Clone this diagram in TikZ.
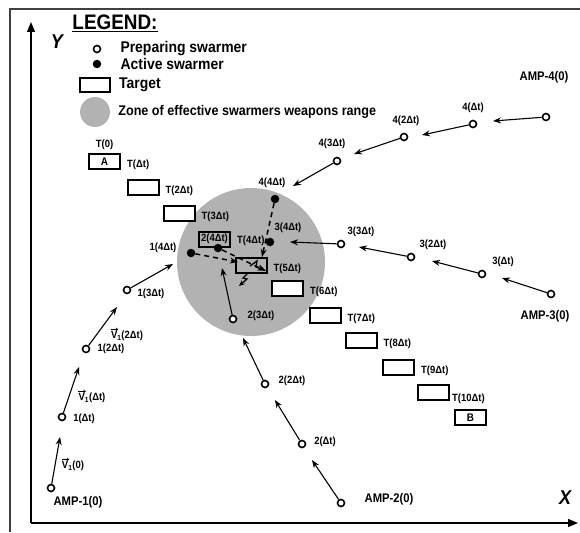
\documentclass[tikz,border=0pt]{standalone}
\usepackage{fontspec}
\setmainfont[FakeStretch=0.9]{Liberation Sans}
\usetikzlibrary{arrows.meta,positioning}
\definecolor{zonegray}{RGB}{178,178,178}

\begin{document}
\begin{tikzpicture}[x=1pt, y=-1pt,
  prep/.style={circle, draw, line width=1.6pt, fill=white, inner sep=0pt, minimum size=7pt},
  act/.style={circle, fill, inner sep=0pt, minimum size=8.5pt},
  tgt/.style={draw, rectangle, line width=2pt, fill=white, minimum width=31pt,
    minimum height=15pt, inner sep=0pt, font=\bfseries\fontsize{11}{12}\selectfont},
  lbl/.style={font=\bfseries\fontsize{10.5}{12}\selectfont, inner sep=0pt},
  amp/.style={font=\bfseries\fontsize{12.5}{14}\selectfont, inner sep=0pt},
  legtxt/.style={font=\bfseries\fontsize{15.5}{16}\selectfont, inner sep=0pt},
  move/.style={line width=1.1pt, -{Stealth[length=8pt,width=6pt]}},
  vbar/.style={line width=0.6pt, -{Straight Barb[length=2pt,width=3pt]}},
  hit/.style={line width=1.5pt, dash pattern=on 5pt off 4pt, -{Stealth[length=8pt,width=6pt]}},
  bolt/.style={line width=1.3pt, -{Stealth[length=6pt,width=5pt]}},
  axis/.style={line width=1.3pt, -{Triangle[length=10pt,width=8pt]}}
]
  \useasboundingbox (0,0) rectangle (580,532);

  % frame and axes
  \draw[line width=1.5pt, black!75] (10,532) -- (10,9) -- (580,9);
  \coordinate (o)    at (31,523);
  \coordinate (ytip) at (31,22);
  \coordinate (xtip) at (578,523);
  \draw[axis] (o) -- (ytip);
  \draw[axis] (o) -- (xtip);
  \node[font=\bfseries\itshape\fontsize{20}{20}\selectfont, inner sep=0pt] (ylab) at (57,42) {Y};
  \node[font=\bfseries\itshape\fontsize{20}{20}\selectfont, inner sep=0pt] (xlab) at (565,498) {X};

  % legend
  \node[font=\bfseries\fontsize{21}{22}\selectfont, inner sep=0pt] (leg) at (115,23) {\underline{LEGEND:}};
  \node[prep] (lprep) at (97,49) {};
  \node[legtxt, right=19pt of lprep] (lpreptxt) {Preparing swarmer};
  \node[act]  (lact)  at (97,64) {};
  \node[legtxt, right=19pt of lact] (lacttxt) {Active swarmer};
  \node[tgt, minimum width=30pt, minimum height=14pt] (ltgt) at (95,85) {};
  \node[legtxt, right=8pt of ltgt] (ltgttxt) {Target};
  \node[circle, fill=zonegray, minimum size=30pt, inner sep=0pt] (lzone) at (95,112) {};
  \node[font=\bfseries\fontsize{14}{15}\selectfont, inner sep=0pt, right=8pt of lzone] (lzonetxt)
    {Zone of effective swarmers weapons range};

  % zone of effective weapons range
  \node[circle, fill=zonegray, minimum size=148pt, inner sep=0pt] (zone) at (251,262) {};

  % target positions
  \node[tgt] (t0)  at (104.5,161.5) {A};
  \node[tgt] (t1)  at (143,187) {};
  \node[tgt] (t2)  at (179,213) {};
  \node[tgt, fill=none, font=\bfseries\fontsize{10.5}{12}\selectfont] (t3) at (214.5,239) {2(4Δt)};
  \node[tgt, fill=none] (t4) at (251,265) {};
  \node[tgt] (t5)  at (287.5,288.5) {};
  \node[tgt] (t6)  at (325,315.5) {};
  \node[tgt] (t7)  at (361,340.5) {};
  \node[tgt] (t8)  at (398.5,367) {};
  \node[tgt] (t9)  at (433.5,392) {};
  \node[tgt] (t10) at (470.5,417.5) {B};

  \node[lbl, above=3pt of t0] (lt0) {T(0)};
  \node[lbl, above right=0pt and 6pt of t0.south east] (lt1) {T(Δt)};
  \node[lbl, above right=0pt and 6pt of t1.south east] (lt2) {T(2Δt)};
  \node[lbl, above right=0pt and 6pt of t2.south east] (lt3) {T(3Δt)};
  \node[lbl, above right=2pt and 6pt of t3.south east] (lt4) {T(4Δt)};
  \node[lbl, above right=0pt and 6pt of t4.south east] (lt5) {T(5Δt)};
  \node[lbl, above right=0pt and 6pt of t5.south east] (lt6) {T(6Δt)};
  \node[lbl, above right=0pt and 6pt of t6.south east] (lt7) {T(7Δt)};
  \node[lbl, above right=0pt and 6pt of t7.south east] (lt8) {T(8Δt)};
  \node[lbl, above right=0pt and 6pt of t8.south east] (lt9) {T(9Δt)};
  \node[lbl, above right=-3pt and 2pt of t9.south east] (lt10) {T(10Δt)};

  % swarmer 1
  \node[prep] (p10) at (51,488) {};
  \node[prep] (p11) at (62,417) {};
  \node[prep] (p12) at (86,349) {};
  \node[prep] (p13) at (127,290) {};
  \node[act]  (a14) at (191,253) {};
  \coordinate (v10) at (60,437);
  \coordinate (v11) at (79,367);
  \coordinate (v12) at (117,307);
  \coordinate (v13) at (173,264);
  \draw[move] (p10) -- (v10);
  \draw[move] (p11) -- (v11);
  \draw[move] (p12) -- (v12);
  \draw[move] (p13) -- (v13);
  \node[amp] (l10) at (78,502) {AMP-1(0)};
  \node[lbl] (lv10) at (73,466) {V\textsubscript{1}(0)};
  \node[lbl] (l11) at (84,419) {1(Δt)};
  \node[lbl] (lv11) at (92,398) {V\textsubscript{1}(Δt)};
  \node[lbl] (l12) at (111,349) {1(2Δt)};
  \node[lbl] (lv12) at (127,336) {V\textsubscript{1}(2Δt)};
  \node[lbl] (l13) at (151,294) {1(3Δt)};
  \node[lbl] (l14) at (163,248) {1(4Δt)};
  \draw[vbar] ([yshift=1.5pt]lv10.north west) -- ++(7.5,0);
  \draw[vbar] ([yshift=1.5pt]lv11.north west) -- ++(7.5,0);
  \draw[vbar] ([yshift=1.5pt]lv12.north west) -- ++(7.5,0);

  % swarmer 2
  \node[prep] (p20) at (341,503) {};
  \node[prep] (p21) at (302,444) {};
  \node[prep] (p22) at (265,384) {};
  \node[prep] (p23) at (233,319) {};
  \node[act]  (a24) at (218,248) {};
  \coordinate (v20) at (312,460);
  \coordinate (v21) at (275,400);
  \coordinate (v22) at (243,338);
  \coordinate (v23) at (222,268);
  \draw[move] (p20) -- (v20);
  \draw[move] (p21) -- (v21);
  \draw[move] (p22) -- (v22);
  \draw[move] (p23) -- (v23);
  \node[amp] (l20) at (389,499) {AMP-2(0)};
  \node[lbl] (l21) at (325,442) {2(Δt)};
  \node[lbl] (l22) at (292,381) {2(2Δt)};
  \node[lbl] (l23) at (261,316) {2(3Δt)};

  % swarmer 3
  \node[prep] (p30) at (551,294) {};
  \node[prep] (p31) at (482,274) {};
  \node[prep] (p32) at (411,257) {};
  \node[prep] (p33) at (341,244) {};
  \node[act]  (a34) at (270,242) {};
  \coordinate (v30) at (502,278);
  \coordinate (v31) at (432,261);
  \coordinate (v32) at (359,247);
  \coordinate (v33) at (290,242);
  \draw[move] (p30) -- (v30);
  \draw[move] (p31) -- (v31);
  \draw[move] (p32) -- (v32);
  \draw[move] (p33) -- (v33);
  \node[amp] (l30) at (545,316) {AMP-3(0)};
  \node[lbl] (l31) at (503,262) {3(Δt)};
  \node[lbl] (l32) at (433,245) {3(2Δt)};
  \node[lbl] (l33) at (361,232) {3(3Δt)};
  \node[lbl] (l34) at (288,228) {3(4Δt)};

  % swarmer 4
  \node[prep] (p40) at (546,117) {};
  \node[prep] (p41) at (473,124) {};
  \node[prep] (p42) at (404,137) {};
  \node[prep] (p43) at (337,161) {};
  \node[act]  (a44) at (275,199) {};
  \coordinate (v40) at (493,121);
  \coordinate (v41) at (422,135);
  \coordinate (v42) at (354,154);
  \coordinate (v43) at (293,186);
  \draw[move] (p40) -- (v40);
  \draw[move] (p41) -- (v41);
  \draw[move] (p42) -- (v42);
  \draw[move] (p43) -- (v43);
  \node[amp] (l40) at (544,77) {AMP-4(0)};
  \node[lbl] (l41) at (473,108) {4(Δt)};
  \node[lbl] (l42) at (406,121) {4(2Δt)};
  \node[lbl] (l43) at (332,144) {4(3Δt)};
  \node[lbl] (l44) at (272,183) {4(4Δt)};

  % attacks on the target
  \coordinate (h1) at (238,262);
  \coordinate (h2) at (266,271);
  \coordinate (h4) at (262,257);
  \draw[hit] (a14) -- (h1);
  \draw[hit] (a24) -- (h2);
  \draw[hit] (a44) -- (h4);
  \draw[bolt] (250,266) -- (257,261) -- (256,267) -- (264,270);
  \draw[bolt] (248,273) -- (243,278) -- (247,279) -- (239,286);
\end{tikzpicture}
\end{document}
